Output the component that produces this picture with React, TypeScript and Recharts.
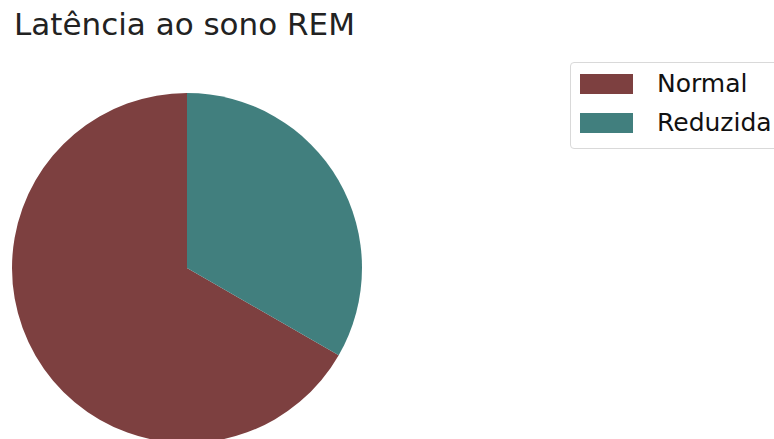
import * as React from "react";
import { PieChart, Pie, Cell, Legend } from "recharts";

const categories = ["Normal", "Reduzida"];
const values = [66.7, 33.3];
const colors = ["#7d4040", "#417f7e"];

const data = categories.map((name, i) => ({ name, value: values[i] }));

const font = "'DejaVu Sans', sans-serif";

function LegendBox(props: any) {
  const { payload = [] } = props;
  return (
    <div
      style={{
        border: "1px solid #d9d9d9",
        borderRadius: 4,
        background: "#fff",
        width: 230,
        height: 87,
        boxSizing: "border-box",
        padding: "11px 0 0 9px",
        fontFamily: font,
        fontSize: 25,
        color: "#111",
      }}
    >
      {payload.map((p: any, i: number) => (
        <div key={i} style={{ display: "flex", alignItems: "center", height: 20, marginBottom: 19 }}>
          <span style={{ display: "inline-block", width: 53, height: 20, background: p.color }} />
          <span style={{ marginLeft: 24, lineHeight: "20px" }}>{p.value}</span>
        </div>
      ))}
    </div>
  );
}

export default function App() {
  return (
    <div style={{ position: "absolute", left: 0, top: 0, width: 774, height: 439, overflow: "hidden", background: "#fff" }}>
      <div
        style={{
          position: "absolute",
          left: 14,
          top: 6,
          fontFamily: font,
          fontSize: 31,
          color: "#222",
          whiteSpace: "nowrap",
        }}
      >
        Latência ao sono REM
      </div>
      <PieChart width={774} height={439} margin={{ top: 0, right: 0, bottom: 0, left: 0 }}>
        <Pie
          data={data}
          dataKey="value"
          nameKey="name"
          cx={187}
          cy={268}
          outerRadius={175}
          startAngle={90}
          endAngle={450}
          stroke="none"
          isAnimationActive={false}
        >
          {data.map((d, i) => (
            <Cell key={d.name} fill={colors[i]} />
          ))}
        </Pie>
        <Legend
          content={<LegendBox />}
          wrapperStyle={{ position: "absolute", left: 570, top: 62, width: 230 }}
        />
      </PieChart>
    </div>
  );
}
